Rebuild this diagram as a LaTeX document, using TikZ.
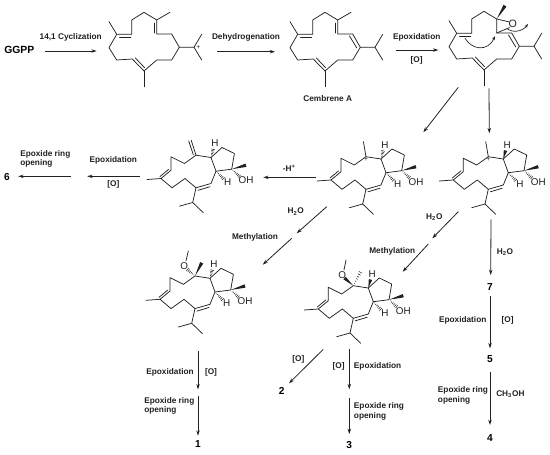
\documentclass[tikz,border=0pt]{standalone}
\usepackage{fontspec}
\setmainfont{Liberation Sans}
\usetikzlibrary{arrows.meta,calc}
\definecolor{ink}{gray}{0.13}
\tikzset{
  bond/.style={draw=ink,line width=.55pt,line join=round,line cap=round},
  rxn/.style={draw=ink,line width=.6pt,-{Stealth[length=4pt,width=2.6pt]}},
  curly/.style={draw=ink,line width=.5pt,-{Stealth[length=3pt,width=2.2pt]}},
  lbl/.style={inner sep=0pt,text=ink,font=\fontsize{6.2}{7.2}\selectfont\bfseries,align=left},
  num/.style={inner sep=0pt,text=black,font=\fontsize{7.6}{9}\selectfont\bfseries},
  atom/.style={inner sep=0pt,text=ink,font=\fontsize{7.4}{9}\selectfont},
  chg/.style={inner sep=0pt,text=ink,font=\fontsize{5}{6}\selectfont},
}
\newcommand\wdg[2]{\fill[ink] #1 -- ($#2!1.3pt!90:#1$) -- ($#2!1.3pt!-90:#1$) -- cycle;}
\newcommand\hsh[2]{\foreach \t in {.16,.32,.48,.64,.8,.96}{%
  \coordinate (hp) at ($#1!\t!#2$);
  \draw[draw=ink,line width=.4pt] ($(hp)!\t*1.4pt!90:#2$) -- ($(hp)!\t*1.4pt!-90:#2$);}}
\newcommand\arr[3]{\coordinate (#1s) at (#2); \coordinate (#1e) at (#3); \draw[rxn] (#1s) -- (#1e);}
% shared part of the 14-membered ring
\newcommand\ringbase{%
  \draw[bond] (156.7,34)--(156.7,20)--(144,12.3)--(131.7,20)--(131.7,34.3)--(116.7,34.3)--(109,47.7)--(116.7,60)--(132.3,59)--(144,71)--(156.7,60)--(171.7,60)--(179.3,47.3)--(171.7,34)--(156.7,34);
  \draw[bond] (109,21.7)--(116.7,34.3);
  \draw[bond] (144,71)--(144,86.7);
  \draw[bond] (119.5,36.9)--(130.8,36.9);
  \draw[bond] (135.3,57.9)--(144.5,67.6);
}
\newcommand\ringmethyl{\draw[bond] (156.7,20)--(170,12.3);}
\newcommand\ringdbl{\draw[bond] (154.3,23)--(154.3,33);}
\newcommand\ipr{\draw[bond] (179.3,47.3)--(194,47.3)--(201.7,34.3); \draw[bond] (194,47.3)--(201.7,60);}
% shared part of the bicyclic skeleton
\newcommand\bicyc[1]{%
  \draw[bond] (488.3,156.7)--(476.7,165)--(463.3,158.3)--(463.3,171.7)--(453.3,180)--(464.3,189.3)--(477.3,180)--(488.3,189.3)--(503.3,185)--(508.3,172.7)--(503.3,159)--(488.3,156.7);
  \draw[bond] (503.3,159)--(514.3,149)--(526.7,155)--(524,170.7)--(508.3,172.7);
  \draw[bond] (453.3,180)--(439.3,181);
  \draw[bond] (461,170.8)--(452.3,178);
  \draw[bond] (490.3,191.8)--(502.3,188.2);
  \draw[bond] (488.3,189.3)--(485,204)--(471.7,207.7);
  \draw[bond] (485,204)--(495.7,214.3);
  \wdg{(524,170.7)}{(538.3,166.7)}
  \hsh{(524,170.7)}{(532,178)}
  \hsh{(508.3,172.7)}{(516,180.5)}
  \node[atom] (#1oh) at (538.3,181.7) {OH};
  \node[atom] (#1hb) at (520,184) {H};
  \node[atom] (#1ht) at (507.3,145) {H};
}
\begin{document}
\begin{tikzpicture}[x=.75pt,y=-.75pt]
\useasboundingbox (0,0) rectangle (550,454);
\fill[white] (0,0) rectangle (550,454);

% --- top row molecules ---
\ringbase \ringmethyl \ringdbl
\draw[bond] (179.3,47.3)--(194,47.3)--(201.7,34.3);
\draw[bond] (194,47.3)--(201.7,60);
\node[chg] (plusA) at (198.3,47.9) {+};

\begin{scope}[shift={(181,0)}]
  \ringbase \ringmethyl \ringdbl \ipr
  \draw[bond] (168.5,36)--(175.8,48);
\end{scope}
\node[lbl] (cem) at (327.7,98.3) {Cembrene A};

\begin{scope}[shift={(340,-1)}]
  \ringbase \ipr
  \draw[bond] (168.5,36)--(175.8,48);
\end{scope}
\wdg{(496.7,19)}{(505,5.7)}
\node[atom,font=\fontsize{8}{9}\selectfont] (epO) at (512.7,24) {O};
\draw[bond] (496.7,19)--(508.8,21.8);
\draw[bond] (496.7,33)--(509.5,27.6);
\coordinate (c1s) at (465,38.3); \coordinate (c1e) at (495,36);
\draw[curly] (c1s) .. controls (472,50) and (488,52) .. (c1e);
\coordinate (c2s) at (506.7,28.3); \coordinate (c2e) at (528,24);
\draw[curly] (c2s) .. controls (512,33) and (522,32) .. (c2e);

% --- bicyclic cations ---
\bicyc{r}
\draw[bond] (488.3,156.7)--(485.7,141.7);
\node[chg] (plusR) at (488.3,159.6) {+};
\wdg{(503.3,159)}{(505.5,150.5)}

\begin{scope}[shift={(-122.3,0)}]
  \bicyc{m}
  \draw[bond] (488.3,156.7)--(485.7,141.7);
  \node[chg] (plusM) at (488.3,159.6) {+};
  \hsh{(503.3,159)}{(505.5,150.5)}
\end{scope}

\begin{scope}[shift={(-292.3,-1.5)}]
  \bicyc{l}
  \draw[bond] (488.3,156.7)--(483.5,141.7);
  \draw[bond] (485.7,156.5)--(481,142.5);
  \hsh{(503.3,159)}{(505.5,150.5)}
\end{scope}

\begin{scope}[shift={(-293.3,119.3)}]
  \bicyc{a}
  \hsh{(503.3,159)}{(505.5,150.5)}
  \wdg{(488.3,156.7)}{(495,143.5)}
  \hsh{(488.3,156.7)}{(480.5,150)}
  \node[atom] (ao) at (477.6,146.7) {O};
  \draw[bond] (479.3,141.5)--(481.6,131.7);
\end{scope}

\begin{scope}[shift={(-135,129)}]
  \bicyc{b}
  \wdg{(503.3,159)}{(505.5,150.5)}
  \wdg{(488.3,156.7)}{(479.5,149)}
  \hsh{(488.3,156.7)}{(495.7,142.7)}
  \node[atom] (bo) at (477.3,146) {O};
  \draw[bond] (479,141)--(481,131);
\end{scope}

% --- reaction arrows and labels ---
\node[num,font=\fontsize{7.8}{9}\selectfont\bfseries] (ggpp) at (19.3,50) {GGPP};
\arr{a1}{45,51}{96.7,51}
\node[lbl] (t1) at (70.7,37.3) {14,1 Cyclization};
\arr{a2}{217.3,51.7}{275,51.7}
\node[lbl] (t2) at (246,37.7) {Dehydrogenation};
\arr{a3}{395.7,50}{438.3,50}
\node[lbl] (t3) at (416.7,37.7) {Epoxidation};
\node[lbl] (t3b) at (416.7,60) {[O]};

\arr{a4}{458.3,87.3}{423.3,132.3}
\arr{a5}{489,88.3}{489.3,133.3}

\arr{a6}{315.7,177.3}{263.3,177.3}
\node[lbl] (t6) at (289.3,168.3) {-H\textsuperscript{+}};
\arr{a7}{140,176.3}{87.3,176.3}
\node[lbl] (t7) at (113.3,160.7) {Epoxidation};
\node[lbl] (t7b) at (113.3,184.7) {[O]};
\arr{a8}{71,176.3}{18.3,176.3}
\node[lbl,anchor=west] (t8) at (20,159) {Epoxide ring\\opening};
\node[num] (n6) at (7,177) {6};

\arr{a9}{326.7,206.7}{296.7,233.3}
\node[lbl] (t9) at (295.7,211.7) {H\textsubscript{2}O};
\arr{a10}{291.7,238.3}{262.8,264.7}
\node[lbl] (t10) at (255,237.7) {Methylation};

\arr{a11}{458.3,211.7}{432.3,238.3}
\node[lbl] (t11) at (434.3,217.3) {H\textsubscript{2}O};
\arr{a12}{428.3,244}{402.7,271.7}
\node[lbl] (t12) at (392.3,251) {Methylation};

\arr{a13}{491,219.3}{490.7,275}
\node[lbl] (t13) at (505,252.3) {H\textsubscript{2}O};
\node[num] (n7) at (490,287.3) {7};
\arr{a14}{490,296}{490,348.3}
\node[lbl] (t14) at (462.7,320.7) {Epoxidation};
\node[lbl] (t14b) at (507.7,320.7) {[O]};
\node[num] (n5) at (490,359) {5};
\arr{a15}{490,372.3}{490,425}
\node[lbl,anchor=west] (t15) at (437.7,395.5) {Epoxide ring\\opening};
\node[lbl,anchor=west] (t15b) at (496,394) {CH\textsubscript{3}OH};
\node[num] (n4) at (490,437.7) {4};

\arr{a16}{323.3,349.3}{289,383.3}
\node[lbl] (t16) at (298.3,359.3) {[O]};
\node[num] (n2) at (281.7,390.7) {2};
\arr{a17}{349.3,349.3}{349.3,389.3}
\node[lbl] (t17) at (338.7,366.7) {[O]};
\node[lbl,anchor=west] (t17b) at (353.7,366.7) {Epoxidation};
\arr{a18}{349.3,397.7}{349.3,434}
\node[lbl,anchor=west] (t18) at (353.7,411.3) {Epoxide ring\\opening};
\node[num] (n3) at (349.3,445) {3};

\arr{a19}{198,351}{198,389.3}
\node[lbl] (t19) at (170,372) {Epoxidation};
\node[lbl] (t19b) at (211,372) {[O]};
\arr{a20}{198,396}{198,435.7}
\node[lbl,anchor=west] (t20) at (144,405.7) {Epoxide ring\\opening};
\node[num] (n1) at (198,444.3) {1};
\end{tikzpicture}
\end{document}
